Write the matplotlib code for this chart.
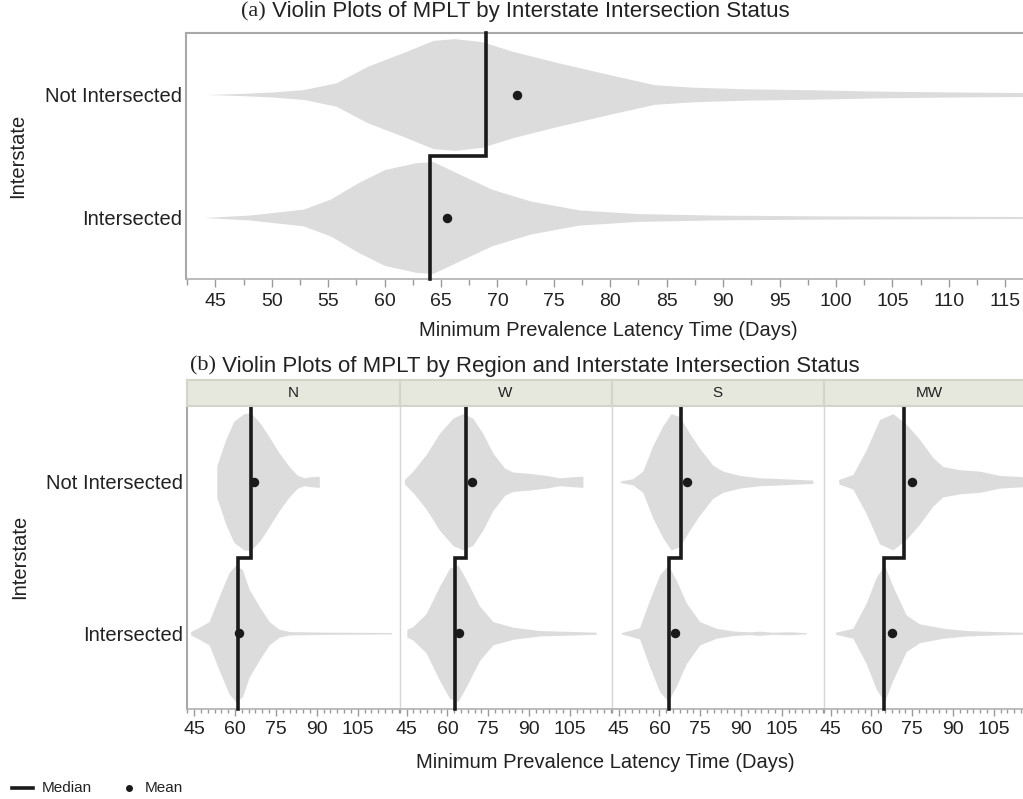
import matplotlib
matplotlib.use("Agg")
import matplotlib.pyplot as plt
from matplotlib.ticker import MultipleLocator, FixedLocator
from matplotlib.text import Annotation

plt.rcParams['font.family'] = ['Liberation Sans', 'DejaVu Sans']

# ---------------- data ----------------
categories = ["Not Intersected", "Intersected"]

# panel (a)
top_median = [69.0, 64.0]
top_mean = [71.7, 65.5]
top_ni_x = [44.2, 47.0, 50.0, 52.8, 55.7, 58.5, 61.9, 64.3, 66.2, 68.6, 71.4, 75.3, 80.0, 83.9, 87.2, 92.0, 98.2, 104.0, 111.0, 117.2]
top_ni_w = [0.0, 0.008, 0.02, 0.04, 0.095, 0.23, 0.35, 0.44, 0.454, 0.43, 0.35, 0.26, 0.16, 0.08, 0.06, 0.046, 0.038, 0.027, 0.02, 0.016]
top_i_x = [44.0, 48.0, 52.8, 55.2, 57.6, 60.0, 62.8, 64.3, 66.7, 69.5, 72.9, 77.2, 82.4, 89.6, 99.2, 117.2]
top_i_w = [0.0, 0.02, 0.068, 0.15, 0.28, 0.39, 0.446, 0.454, 0.35, 0.23, 0.135, 0.062, 0.032, 0.019, 0.013, 0.008]

# panel (b)
regions = ["N", "W", "S", "MW"]
median_ni = [66.0, 67.0, 67.8, 71.8]
median_i = [61.0, 62.7, 63.7, 64.8]
mean_ni = [67.0, 69.0, 70.1, 74.9]
mean_i = [61.6, 64.2, 65.7, 67.4]

n_ni_x = [53.3, 53.3, 56.6, 59.6, 63.3, 65.8, 69.5, 73.1, 76.2, 79.9, 82.9, 85.4, 87.8, 90.9, 90.9]
n_ni_w = [0.0, 0.104, 0.28, 0.40, 0.45, 0.455, 0.38, 0.28, 0.19, 0.10, 0.042, 0.026, 0.033, 0.037, 0.0]
n_i_x = [43.7, 46.2, 50.5, 54.1, 57.8, 60.2, 62.7, 65.2, 68.8, 72.5, 76.2, 79.9, 94.6, 117.3]
n_i_w = [0.011, 0.033, 0.077, 0.24, 0.40, 0.45, 0.42, 0.29, 0.18, 0.077, 0.026, 0.011, 0.007, 0.005]

w_ni_x = [44.2, 47.3, 52.2, 57.1, 62.0, 65.7, 69.3, 73.0, 76.7, 81.0, 84.1, 90.2, 96.3, 101.2, 106.1, 109.8, 109.8]
w_ni_w = [0.015, 0.07, 0.18, 0.32, 0.42, 0.45, 0.42, 0.32, 0.19, 0.09, 0.064, 0.055, 0.042, 0.026, 0.033, 0.037, 0.0]
w_i_x = [45.1, 45.1, 47.3, 52.2, 57.1, 60.8, 63.9, 67.0, 71.8, 76.7, 84.1, 93.9, 114.7]
w_i_w = [0.0, 0.026, 0.044, 0.13, 0.31, 0.43, 0.45, 0.35, 0.18, 0.077, 0.04, 0.018, 0.007]

s_ni_x = [45.6, 50.2, 53.9, 57.6, 61.3, 64.3, 67.4, 71.1, 74.8, 79.6, 83.3, 89.5, 96.8, 102.9, 111.5, 116.4]
s_ni_w = [0.005, 0.02, 0.07, 0.24, 0.37, 0.45, 0.43, 0.32, 0.22, 0.11, 0.07, 0.042, 0.026, 0.022, 0.015, 0.011]
s_i_x = [46.0, 52.7, 56.4, 60.1, 63.2, 66.2, 69.9, 74.8, 80.9, 87.0, 93.1, 96.8, 101.7, 107.8, 114.0]
s_i_w = [0.004, 0.037, 0.22, 0.385, 0.45, 0.35, 0.20, 0.077, 0.033, 0.015, 0.009, 0.014, 0.007, 0.01, 0.004]

mw_ni_x = [48.0, 48.0, 53.2, 58.1, 63.0, 67.9, 72.8, 77.7, 82.6, 86.3, 92.4, 99.8, 107.1, 115.5, 121.0]
mw_ni_w = [0.0, 0.015, 0.048, 0.21, 0.41, 0.45, 0.38, 0.28, 0.16, 0.10, 0.08, 0.07, 0.042, 0.033, 0.03]
mw_i_x = [46.8, 53.2, 58.1, 61.8, 64.8, 67.9, 72.8, 77.7, 86.3, 94.9, 105.9, 115.5, 121.0]
mw_i_w = [0.007, 0.033, 0.20, 0.37, 0.45, 0.31, 0.12, 0.062, 0.033, 0.018, 0.011, 0.007, 0.006]

facet_profiles = [
    ((n_ni_x, n_ni_w), (n_i_x, n_i_w)),
    ((w_ni_x, w_ni_w), (w_i_x, w_i_w)),
    ((s_ni_x, s_ni_w), (s_i_x, s_i_w)),
    ((mw_ni_x, mw_ni_w), (mw_i_x, mw_i_w)),
]

# ---------------- style ----------------
W, H = 1023, 799
VIOLIN = '#dcdcdc'
TXT = '#222222'
FS = 14.5
TFS = 14
TITLE_FS = 16


def rect(l, t, r, b):
    return [l / W, 1 - b / H, (r - l) / W, (b - t) / H]


def draw_violin(ax, xs, ws, pos):
    lo = [pos - w for w in ws]
    hi = [pos + w for w in ws]
    ax.fill_between(xs, lo, hi, color=VIOLIN, lw=0, zorder=1)


def draw_median_mean(ax, med, mean):
    ax.plot([med[0], med[0], med[1], med[1]], [-0.5, 0.5, 0.5, 1.5],
            color='#1a1a1a', lw=2.6, solid_joinstyle='miter', zorder=3,
            clip_on=False)
    ax.plot(mean, [0, 1], 'o', color='#1a1a1a', ms=5.8, zorder=4)


def title(x_px, y_px, tag, text):
    t = fig.text(x_px / W, 1 - y_px / H, tag, family='Liberation Serif',
                 fontsize=TITLE_FS, color=TXT, ha='left', va='center')
    fig.add_artist(Annotation(" " + text, xy=(1, 0.5), xycoords=t, ha='left',
                              va='center', fontsize=TITLE_FS, color=TXT))


fig = plt.figure(figsize=(W / 100, H / 100), dpi=100)

# ---------------- panel (a) ----------------
ax = fig.add_axes(rect(186, 33, 1030, 279))
ax.set_xlim(42.4, 117.2)
ax.set_ylim(1.5, -0.5)
draw_violin(ax, top_ni_x, top_ni_w, 0)
draw_violin(ax, top_i_x, top_i_w, 1)
draw_median_mean(ax, top_median, top_mean)
ax.set_yticks([0, 1], categories)
ax.tick_params(axis='y', length=0, pad=3, labelsize=FS, labelcolor=TXT)
ax.xaxis.set_major_locator(MultipleLocator(5))
ax.xaxis.set_minor_locator(MultipleLocator(2.5))
ax.tick_params(axis='x', which='major', length=6, width=1, color='#9a9a9a',
               labelsize=TFS, labelcolor=TXT, pad=4)
ax.tick_params(axis='x', which='minor', length=4, width=1, color='#9a9a9a')
for s in ['left', 'top']:
    ax.spines[s].set_color('#a8a8a8')
    ax.spines[s].set_linewidth(1.5)
ax.spines['bottom'].set_color('#b0b0b0')
ax.spines['bottom'].set_linewidth(1.2)
ax.spines['right'].set_visible(False)
ax.set_xlabel("Minimum Prevalence Latency Time (Days)", fontsize=FS, color=TXT, labelpad=8)

fig.text(18 / W, 1 - 156 / H, "Interstate", rotation=90, ha='center', va='center',
         fontsize=FS, color=TXT)

title(241, 12, "(a)", "Violin Plots of MPLT by Interstate Intersection Status")

# ---------------- panel (b) ----------------
edges = [187, 399.5, 611.5, 823.5, 1035.5]
for k, reg in enumerate(regions):
    l, r = edges[k], edges[k + 1]
    fa = fig.add_axes(rect(l, 406, r, 709))
    fa.set_xlim(42.4, 120.3)
    fa.set_ylim(1.5, -0.5)
    (nix, niw), (ix, iw) = facet_profiles[k]
    draw_violin(fa, nix, niw, 0)
    draw_violin(fa, ix, iw, 1)
    draw_median_mean(fa, [median_ni[k], median_i[k]], [mean_ni[k], mean_i[k]])
    if k == 0:
        fa.set_yticks([0, 1], categories)
        fa.tick_params(axis='y', length=0, pad=3, labelsize=FS, labelcolor=TXT)
        fa.spines['left'].set_color('#a8a8a8')
        fa.spines['left'].set_linewidth(1.5)
    else:
        fa.set_yticks([])
        fa.spines['left'].set_color('#d6d6d6')
        fa.spines['left'].set_linewidth(1.0)
    fa.xaxis.set_major_locator(FixedLocator([45, 60, 75, 90, 105]))
    fa.xaxis.set_minor_locator(MultipleLocator(2.5))
    fa.tick_params(axis='x', which='major', length=5, width=1, color='#9a9a9a',
                   labelsize=TFS, labelcolor=TXT, pad=4)
    fa.tick_params(axis='x', which='minor', length=3, width=1, color='#9a9a9a')
    fa.spines['top'].set_visible(False)
    fa.spines['right'].set_visible(False)
    fa.spines['bottom'].set_color('#b0b0b0')
    fa.spines['bottom'].set_linewidth(1.2)

    ha = fig.add_axes(rect(l, 380, r, 406))
    ha.set_facecolor('#e6e7dd')
    ha.set_xticks([])
    ha.set_yticks([])
    for s in ha.spines.values():
        s.set_color('#d4d5c9')
        s.set_linewidth(1.5)
    ha.text(0.5, 0.5, reg, transform=ha.transAxes, ha='center', va='center',
            fontsize=11, color=TXT)

fig.text(605 / W, 1 - 762 / H, "Minimum Prevalence Latency Time (Days)", ha='center',
         va='center', fontsize=FS, color=TXT)
fig.text(20 / W, 1 - 557 / H, "Interstate", rotation=90, ha='center', va='center',
         fontsize=FS, color=TXT)

title(190, 366, "(b)", "Violin Plots of MPLT by Region and Interstate Intersection Status")

# ---------------- legend ----------------
fig.add_artist(plt.Line2D([12 / W, 33 / W], [1 - 788 / H, 1 - 788 / H], color='#1a1a1a', lw=2.6))
fig.text(42 / W, 1 - 788 / H, "Median", fontsize=11, color=TXT, ha='left', va='center')
fig.add_artist(plt.Line2D([129 / W], [1 - 788 / H], marker='o', color='#1a1a1a', ms=4, lw=0))
fig.text(145 / W, 1 - 788 / H, "Mean", fontsize=11, color=TXT, ha='left', va='center')

fig.savefig("out.png", dpi=100)
